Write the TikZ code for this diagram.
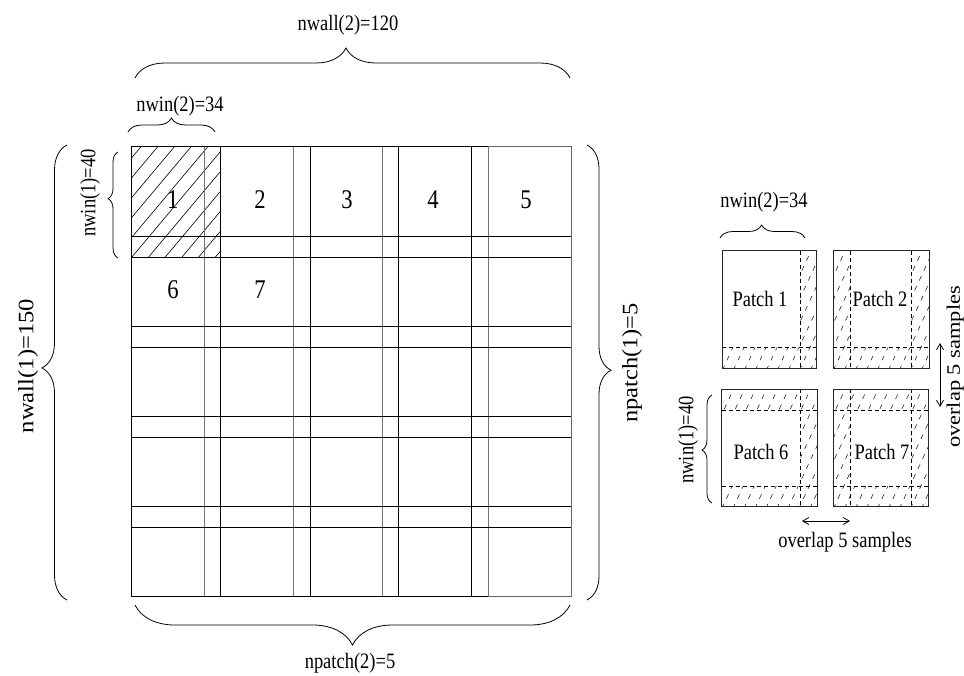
\documentclass[tikz,border=0pt]{standalone}
\usepackage{fontspec}
\setmainfont{Liberation Serif}
\usepackage{graphicx}
\usetikzlibrary{decorations.pathreplacing,arrows.meta}
\newcommand{\cnd}[1]{\scalebox{0.84}[1]{#1}}
\newcommand{\phatch}[2]{%
  \foreach \i in {-6,...,10} {\draw[hdash] ({#1+\i*11},{#2+2}) -- ++(57,-122);}}
\begin{document}
\begin{tikzpicture}[x=1pt,y=-1pt,
  lbl/.style={inner sep=0pt,font=\fontsize{22}{26}\selectfont},
  dig/.style={inner sep=0pt,font=\fontsize{27}{30}\selectfont},
  brc/.style n args={2}{decorate,decoration={brace,amplitude=#1,aspect=#2},line width=0.8pt},
  gline/.style={line width=0.9pt,black!55},
  dline/.style={line width=1pt,black},
  thickh/.style={line width=1.3pt,black},
  thinh/.style={line width=0.9pt,black},
  ghatch/.style={line width=0.6pt,black},
  hdash/.style={line width=0.6pt,black!85,dash pattern=on 5pt off 6pt},
  idash/.style={line width=0.8pt,black,dash pattern=on 4pt off 3pt},
  pbox/.style={line width=1pt,black!85},
  dbl/.style={line width=0.8pt,{Straight Barb[length=6pt,width=7pt]}-{Straight Barb[length=6pt,width=7pt]}}
]
\useasboundingbox (0,0) rectangle (964,675);

% ---------- grid hatch (patch 1) ----------
\begin{scope}
  \clip (131.7,146.7) rectangle (220.7,257.3);
  \foreach \i in {-6,...,6} {\draw[ghatch] ({131.7+\i*16.7},257.3) -- ++(92.8,-110.6);}
\end{scope}

% ---------- grid ----------
\foreach \x in {204,293.3,382.7,488.3} {\draw[gline] (\x,146.7) -- (\x,596.7);}
\foreach \x in {220.7,310,398.7,471.7} {\draw[dline] (\x,146.7) -- (\x,596.7);}
\foreach \y in {236.7,326.7,416.7,506.7} {\draw[thickh] (131.7,\y) -- (571.7,\y);}
\foreach \y in {257.3,347.3,437.3,527.3} {\draw[thinh] (131.7,\y) -- (571.7,\y);}
\draw[dline] (488.3,146.7) -- (131.7,146.7) -- (131.7,596.7) -- (488.3,596.7);
\draw[line width=1pt,black!60] (488.3,146.7) -- (571.7,146.7) -- (571.7,596.7) -- (488.3,596.7);

\node[dig] (n1) at (172.7,200) {\cnd{1}};
\node[dig] (n2) at (260,200) {\cnd{2}};
\node[dig] (n3) at (347,200) {\cnd{3}};
\node[dig] (n4) at (433,200) {\cnd{4}};
\node[dig] (n5) at (526,200) {\cnd{5}};
\node[dig] (n6) at (173,290) {\cnd{6}};
\node[dig] (n7) at (260,290) {\cnd{7}};

% ---------- braces around grid ----------
\draw[brc={30pt}{0.485}] (135,78) -- (570,78);
\node[lbl] (wall2) at (348,25) {\cnd{nwall(2)=120}};
\draw[brc={14pt}{0.5}] (128,132) -- (215,132);
\node[lbl] (win2) at (180,106) {\cnd{nwin(2)=34}};
\draw[brc={25pt}{0.51}] (67,600) -- (67,145);
\node[lbl,rotate=90] (wall1) at (28,366) {\scalebox{1.12}[1]{nwall(1)=150}};
\draw[brc={10pt}{0.56}] (118,258) -- (118,152);
\node[lbl,rotate=90] (win1) at (90,193) {\cnd{nwin(1)=40}};
\draw[brc={24pt}{0.495}] (587,145) -- (587,600);
\node[lbl,rotate=90] (np1) at (632,363) {\scalebox{1.11}[1]{npatch(1)=5}};
\draw[brc={40pt}{0.5}] (570,605) -- (135,605);
\node[lbl] (np2) at (350,663) {\cnd{npatch(2)=5}};

% ---------- patches ----------
% Patch 1
\begin{scope}
  \clip (800,250.7) rectangle (816.7,368.3) (722.3,347.3) rectangle (816.7,368.3);
  \phatch{722.3}{368.3}
\end{scope}
\draw[idash] (800,250.7) -- (800,368.3);
\draw[idash] (722.3,347.3) -- (816.7,347.3);
\draw[pbox] (722.3,250.7) rectangle (816.7,368.3);
\node[lbl] (p1) at (760,299) {\cnd{Patch 1}};

% Patch 2
\begin{scope}
  \clip (833.3,250.7) rectangle (850.7,368.3) (911.7,250.7) rectangle (929,368.3) (833.3,347.3) rectangle (929,368.3);
  \phatch{833.3}{368.3}
\end{scope}
\draw[idash] (850.7,250.7) -- (850.7,368.3);
\draw[idash] (911.7,250.7) -- (911.7,368.3);
\draw[idash] (833.3,347.3) -- (929,347.3);
\draw[pbox] (833.3,250.7) rectangle (929,368.3);
\node[lbl] (p2) at (880,299) {\cnd{Patch 2}};

% Patch 6
\begin{scope}
  \clip (721.7,389.3) rectangle (817.3,410) (721.7,486) rectangle (817.3,506.7) (800.7,389.3) rectangle (817.3,506.7);
  \phatch{721.7}{506.7}
\end{scope}
\draw[idash] (721.7,410) -- (817.3,410);
\draw[idash] (721.7,486) -- (817.3,486);
\draw[idash] (800.7,389.3) -- (800.7,506.7);
\draw[pbox] (721.7,389.3) rectangle (817.3,506.7);
\node[lbl] (p6) at (761,452) {\cnd{Patch 6}};

% Patch 7
\begin{scope}
  \clip (833.3,389.3) rectangle (928.3,410) (833.3,486) rectangle (928.3,506.7) (833.3,389.3) rectangle (850,506.7) (911.7,389.3) rectangle (928.3,506.7);
  \phatch{833.3}{506.7}
\end{scope}
\draw[idash] (833.3,410) -- (928.3,410);
\draw[idash] (833.3,486) -- (928.3,486);
\draw[idash] (850,389.3) -- (850,506.7);
\draw[idash] (911.7,389.3) -- (911.7,506.7);
\draw[pbox] (833.3,389.3) rectangle (928.3,506.7);
\node[lbl] (p7) at (882,452) {\cnd{Patch 7}};

% braces on the right
\draw[brc={13pt}{0.49}] (720,238) -- (805,238);
\node[lbl] (rwin2) at (764,202) {\cnd{nwin(2)=34}};
\draw[brc={10pt}{0.49}] (712,503) -- (712,395);
\node[lbl,rotate=90] (rwin1) at (688,440) {\cnd{nwin(1)=40}};

% overlap arrows
\coordinate (ha1) at (802,521);
\coordinate (ha2) at (850,521);
\draw[dbl] (ha1) -- (ha2);
\node[lbl] (ovh) at (845,542) {\cnd{overlap 5 samples}};
\coordinate (va1) at (940,343);
\coordinate (va2) at (940,407);
\draw[dbl] (va1) -- (va2);
\node[lbl,rotate=90,anchor=north,font=\fontsize{19}{22}\selectfont] (ovv) at (946.5,367) {\scalebox{1.18}[1]{overlap 5 samples}};
\end{tikzpicture}
\end{document}
